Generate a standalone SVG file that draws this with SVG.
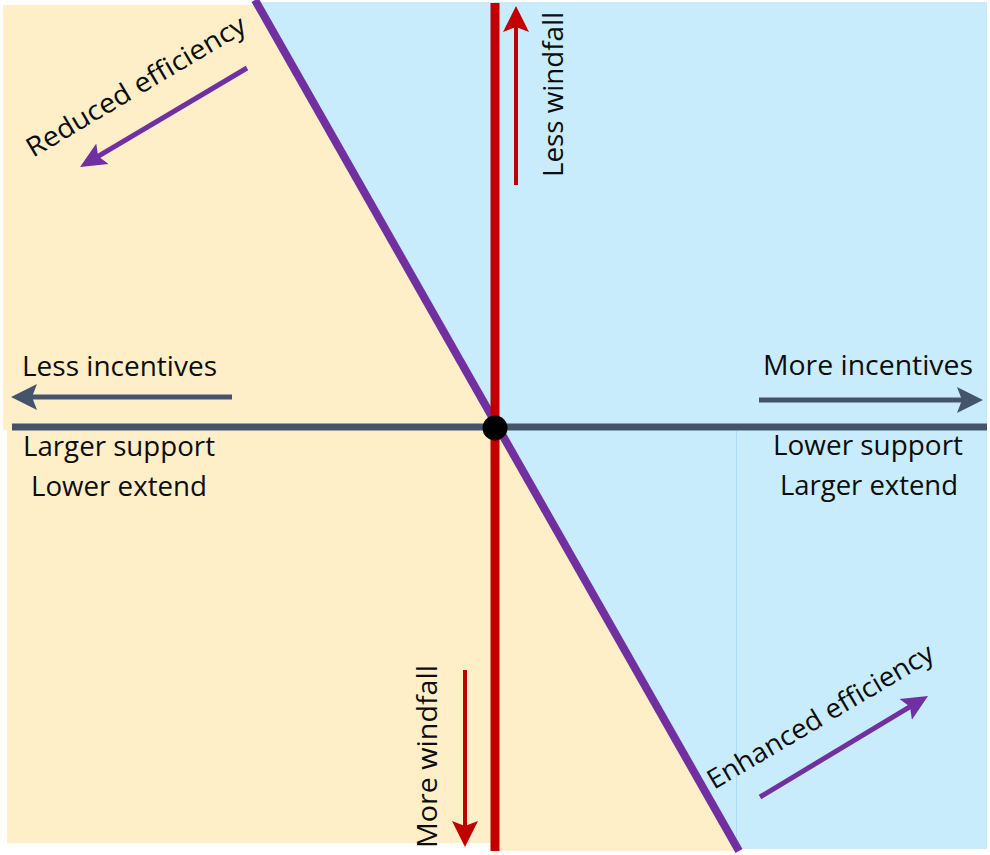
<svg xmlns="http://www.w3.org/2000/svg" width="990" height="855" viewBox="0 0 990 855">
  <style>
    .lbl { font-family: "Open Sans", "Noto Sans", "Liberation Sans", sans-serif; font-size: 27px; fill: #0D0D0D; }
    .red { stroke: #C00000; fill: none; }
    .slate { stroke: #44546A; fill: none; }
    .purple { stroke: #7030A0; fill: none; }
  </style>
  <defs>
    <!-- stealth-style arrowheads; tip sits 16px beyond the line end -->
    <marker id="ah-red" viewBox="0 0 28 28" refX="10" refY="14" markerWidth="28" markerHeight="28" markerUnits="userSpaceOnUse" orient="auto">
      <path d="M0,1 L26,14 L0,27 L5,14 z" fill="#C00000"/>
    </marker>
    <marker id="ah-slate" viewBox="0 0 28 28" refX="10" refY="14" markerWidth="28" markerHeight="28" markerUnits="userSpaceOnUse" orient="auto">
      <path d="M0,1 L26,14 L0,27 L5,14 z" fill="#44546A"/>
    </marker>
    <marker id="ah-purple" viewBox="0 0 28 28" refX="10" refY="14" markerWidth="28" markerHeight="28" markerUnits="userSpaceOnUse" orient="auto">
      <path d="M0,2 L26,14 L0,26 L5,14 z" fill="#7030A0"/>
    </marker>
  </defs>

  <!-- background regions -->
  <g id="regions">
    <rect x="0" y="0" width="990" height="855" fill="#FFFFFF"/>
    <polygon id="region-right" points="254,2 987,2 987,849 738,849" fill="#C8ECFB"/>
    <polygon id="region-left" points="3,5 258,5 739,851 500,851 500,843 7,843 7,430 3,430" fill="#FFEFC9"/>
    <line x1="736.5" y1="431" x2="736.5" y2="849" stroke="#A9DEF4" stroke-width="1"/>
  </g>

  <!-- axes and dividing line -->
  <g id="connectors">
    <line id="divider" class="purple" x1="255" y1="0" x2="739" y2="851" stroke-width="8"/>
    <line id="axis-vertical" class="red" x1="495" y1="3" x2="495" y2="851" stroke-width="9"/>
    <line id="axis-horizontal" class="slate" x1="12" y1="427" x2="987" y2="427" stroke-width="7"/>

    <line id="arrow-less-windfall" class="red" x1="516" y1="185" x2="516" y2="22" stroke-width="4" marker-end="url(#ah-red)"/>
    <line id="arrow-more-windfall" class="red" x1="465" y1="670" x2="465" y2="831" stroke-width="4" marker-end="url(#ah-red)"/>
    <line id="arrow-less-incentives" class="slate" x1="232" y1="397" x2="27" y2="397" stroke-width="5" marker-end="url(#ah-slate)"/>
    <line id="arrow-more-incentives" class="slate" x1="759" y1="400" x2="967" y2="400" stroke-width="5" marker-end="url(#ah-slate)"/>
    <line id="arrow-reduced" class="purple" x1="247" y1="68" x2="93.8" y2="158.8" stroke-width="5" marker-end="url(#ah-purple)"/>
    <line id="arrow-enhanced" class="purple" x1="760" y1="797" x2="914.3" y2="704.2" stroke-width="5" marker-end="url(#ah-purple)"/>
  </g>

  <g id="origin">
    <circle cx="495" cy="428" r="12.5" fill="#000000"/>
  </g>

  <!-- labels -->
  <g id="label-less-incentives"><text class="lbl" x="22" y="376" textLength="195" lengthAdjust="spacingAndGlyphs">Less incentives</text></g>
  <g id="label-more-incentives"><text class="lbl" x="763" y="375" textLength="210" lengthAdjust="spacingAndGlyphs">More incentives</text></g>
  <g id="label-left-below">
    <text class="lbl" x="23" y="456" textLength="192" lengthAdjust="spacingAndGlyphs">Larger support</text>
    <text class="lbl" x="31" y="496" textLength="176" lengthAdjust="spacingAndGlyphs">Lower extend</text>
  </g>
  <g id="label-right-below">
    <text class="lbl" x="773" y="455" textLength="190" lengthAdjust="spacingAndGlyphs">Lower support</text>
    <text class="lbl" x="780" y="495" textLength="178" lengthAdjust="spacingAndGlyphs">Larger extend</text>
  </g>
  <g id="label-less-windfall"><text class="lbl" transform="translate(563,177) rotate(-90)" textLength="165" lengthAdjust="spacingAndGlyphs">Less windfall</text></g>
  <g id="label-more-windfall"><text class="lbl" transform="translate(437,848) rotate(-90)" textLength="183" lengthAdjust="spacingAndGlyphs">More windfall</text></g>
  <g id="label-reduced"><text class="lbl" transform="translate(33,158) rotate(-30.6)" textLength="250" lengthAdjust="spacingAndGlyphs">Reduced efficiency</text></g>
  <g id="label-enhanced"><text class="lbl" transform="translate(714,790) rotate(-30.6)" textLength="258" lengthAdjust="spacingAndGlyphs">Enhanced efficiency</text></g>
</svg>
